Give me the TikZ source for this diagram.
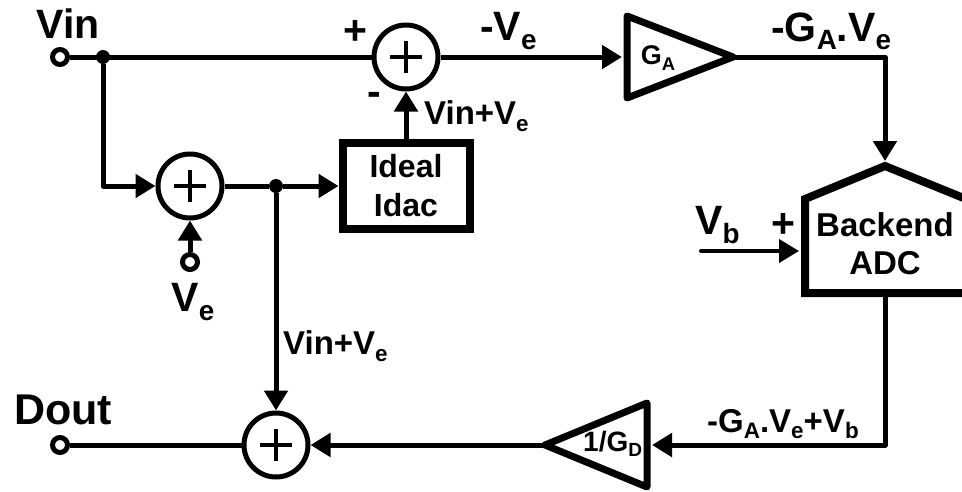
\documentclass[tikz,border=0pt]{standalone}
\usepackage{fontspec}
\usepackage{graphicx}
\setmainfont{Liberation Sans}
\usetikzlibrary{arrows.meta}
\newcommand{\lowtxt}[1]{\raisebox{-0.2em}{\scalebox{0.68}{#1}}}
\tikzset{
    sumnode/.style = {circle, draw, line width=5pt, minimum size=64pt, inner sep=0pt, fill=white,
        path picture={\draw[line width=4pt] ([xshift=-16pt]path picture bounding box.center) -- ([xshift=16pt]path picture bounding box.center)
            ([yshift=-16pt]path picture bounding box.center) -- ([yshift=16pt]path picture bounding box.center);}},
    termnode/.style = {circle, draw, line width=5pt, minimum size=15pt, inner sep=0pt, fill=white},
    dotnode/.style = {circle, fill, minimum size=14pt, inner sep=0pt},
    idacnode/.style = {rectangle, draw, line width=8pt, minimum width=127pt, minimum height=86pt, inner sep=0pt, align=center,
        font=\fontsize{32}{39}\selectfont\bfseries},
    wire/.style = {line width=5pt, line join=round},
    arrowwire/.style = {wire, -{Triangle[length=20pt,width=23pt]}},
    bigtxt/.style = {font=\fontsize{41}{41}\selectfont\bfseries, inner sep=0pt},
    midtxt/.style = {font=\fontsize{33}{38}\selectfont\bfseries, inner sep=0pt, align=center},
    amptxt/.style = {font=\fontsize{27}{27}\selectfont\bfseries, inner sep=0pt}
}

\begin{document}
\begin{tikzpicture}[x=1pt,y=-1pt]
        \useasboundingbox (0,0) rectangle (962,491);

        \node[termnode] (vin) at (60, 57) {};
        \node[dotnode] (dotin) at (103, 57) {};
        \node[sumnode] (sumtop) at (406, 57) {};
        \node[sumnode] (summid) at (190, 186) {};
        \node[dotnode] (dotmid) at (276, 186) {};
        \node[idacnode] (idac) at (406, 186) {Ideal\\Idac};
        \node[termnode] (ve) at (190, 262) {};
        \node[sumnode] (sumbot) at (276, 445) {};
        \node[termnode] (dout) at (60, 445) {};

        % amplifier and adc outlines
        \coordinate (gatop) at (627, 16);
        \coordinate (gabot) at (627, 98);
        \coordinate (gatip) at (733, 57);
        \coordinate (gain) at (622, 57);
        \coordinate (gdtop) at (647, 403);
        \coordinate (gdbot) at (647, 487);
        \coordinate (gdtip) at (545, 445);
        \coordinate (gdin) at (652, 445);
        \coordinate (adctop) at (885, 166);
        \coordinate (adcleft) at (805, 199);
        \coordinate (adcright) at (966, 199);
        \coordinate (adcbl) at (805, 293);
        \coordinate (adcbr) at (966, 293);
        \coordinate (adcin) at (885, 161);
        \coordinate (adcout) at (885, 293);
        \coordinate (adcplus) at (799, 251);
        \coordinate (vbstart) at (701, 251);

        \draw[line width=7pt, line join=round] (gatop) -- (gatip) -- (gabot) -- cycle;
        \draw[line width=7pt, line join=round] (gdtop) -- (gdtip) -- (gdbot) -- cycle;
        \draw[line width=8pt, line join=miter] (adcleft) -- (adctop) -- (adcright) -- (adcbr) -- (adcbl) -- cycle;

        \path
            (vin) edge[wire] (sumtop)
            (summid) edge[wire] (dotmid)
            (dout) edge[wire] (sumbot)
            (sumtop) edge[arrowwire] (gain)
            (idac) edge[arrowwire] (sumtop)
            (ve) edge[arrowwire] (summid)
            (dotmid) edge[arrowwire] (idac)
            (dotmid) edge[arrowwire] (sumbot)
            (gdtip) edge[arrowwire] (sumbot)
        ;
        \draw[arrowwire] (dotin) |- (summid);
        \draw[arrowwire] (gatip) -| (adcin);
        \draw[arrowwire] (adcout) |- (gdin);
        \draw[line width=4pt,line cap=round,-{Triangle[length=20pt,width=23pt]}] (vbstart) -- (adcplus);

        \node[bigtxt] (vinlabel) at (68, 24) {Vin};
        \node[bigtxt] (plustop) at (355, 32) {+};
        \node[bigtxt] (minustop) at (374, 99) {-};
        \node[bigtxt, anchor=west] (velabel) at (480, 31) {-V\lowtxt{e}};
        \node[midtxt, anchor=west] (fbtop) at (424, 116) {Vin+V\lowtxt{e}};
        \node[bigtxt] (vebot) at (193, 302) {V\lowtxt{e}};
        \node[midtxt, anchor=west] (fbbot) at (283, 346) {Vin+V\lowtxt{e}};
        \node[amptxt] (ga) at (658, 58) {G\lowtxt{A}};
        \node[bigtxt, anchor=west] (galabel) at (771, 31) {-G\lowtxt{A}.V\lowtxt{e}};
        \node[bigtxt, anchor=west] (vb) at (695, 225) {V\lowtxt{b}};
        \node[bigtxt] (plusadc) at (783, 225) {+};
        \node[midtxt] (adc) at (885, 244) {Backend\\ADC};
        \node[bigtxt, anchor=west, font=\fontsize{43}{43}\selectfont\bfseries] (doutlabel) at (14, 410) {Dout};
        \node[amptxt, anchor=west, font=\fontsize{28}{28}\selectfont\bfseries] (gd) at (583, 444) {1/G\lowtxt{D}};
        \node[midtxt, anchor=west] (gdlabel) at (707, 424) {-G\lowtxt{A}.V\lowtxt{e}+V\lowtxt{b}};
    \end{tikzpicture}
\end{document}
